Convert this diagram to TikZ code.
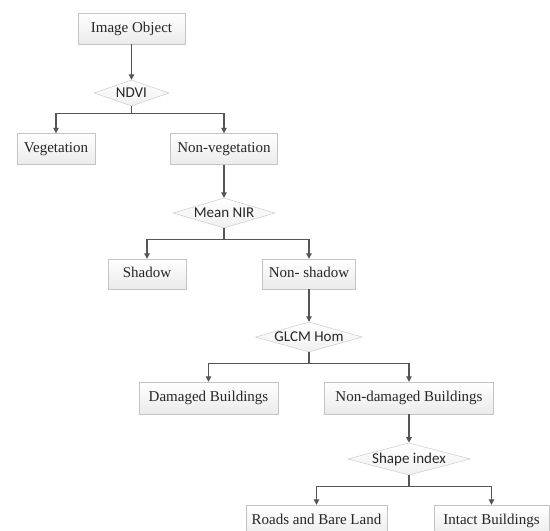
\documentclass[tikz,border=0pt]{standalone}
\usepackage{fontspec}
\setmainfont{Liberation Serif}
\newfontfamily\diafont{Carlito}
\usetikzlibrary{shapes.geometric,arrows.meta}
\definecolor{lineclr}{HTML}{555555}
\definecolor{boxborder}{HTML}{C4C4C4}
\tikzset{
  box/.style={rectangle, draw=boxborder, top color=white, bottom color=black!8,
    minimum height=31pt, inner sep=0pt, text height=10.5pt, text depth=3.5pt,
    font=\fontsize{15}{15}\selectfont, text=black!85},
  dia/.style={diamond, draw=boxborder, top color=white, bottom color=black!6,
    inner sep=0pt, minimum height=30pt, font=\diafont\fontsize{15}{15}\selectfont, text=black!85},
  arr/.style={draw=lineclr, line width=1.1pt, -{Triangle[width=5.5pt,length=5.5pt]}},
  ln/.style={draw=lineclr, line width=1.1pt}
}
\begin{document}
\begin{tikzpicture}[x=1pt,y=-1pt]
\useasboundingbox (0,0) rectangle (550,531);
\clip (0,0) rectangle (550,531);
\fill[white] (0,0) rectangle (550,531);
\node[box, minimum width=107pt] (img) at (131.5,28.5) {Image Object};
\node[dia, minimum width=75pt, minimum height=26pt, aspect=2.9] (ndvi) at (131.5,93) {NDVI};
\node[box, minimum width=78pt] (veg) at (56,149) {Vegetation};
\node[box, minimum width=107pt] (nonveg) at (224,149) {Non-vegetation};
\node[dia, minimum width=102pt, aspect=3.4] (nir) at (224,213) {Mean NIR};
\node[box, minimum width=78pt, minimum height=30pt] (shadow) at (147,274) {Shadow};
\node[box, minimum width=93pt, minimum height=30pt] (nonshadow) at (309,274) {Non- shadow};
\node[dia, minimum width=107pt, aspect=3.5] (glcm) at (309,337) {GLCM Hom};
\node[box, minimum width=139pt, minimum height=32pt] (dam) at (208.5,398) {Damaged Buildings};
\node[box, minimum width=169pt, minimum height=32pt] (nondam) at (409,398) {Non-damaged Buildings};
\node[dia, minimum width=115pt, aspect=3.8] (shape) at (409,459) {Shape index};
\node[box, minimum width=141pt, minimum height=32pt] (roads) at (316.5,521) {Roads and Bare Land};
\node[box, minimum width=115pt, minimum height=32pt] (intact) at (491.5,521) {Intact Buildings};

\draw[arr] (img.south) -- (ndvi.north);
\draw[arr] (ndvi.south) -- ++(0,7) -| (veg.north);
\draw[arr] (ndvi.south) -- ++(0,7) -| (nonveg.north);
\draw[arr] (nonveg.south) -- (nir.north);
\draw[arr] (nir.south) -- ++(0,11) -| (shadow.north);
\draw[arr] (nir.south) -- ++(0,11) -| (nonshadow.north);
\draw[arr] (nonshadow.south) -- (glcm.north);
\draw[arr] (glcm.south) -- ++(0,11) -| (dam.north);
\draw[arr] (glcm.south) -- ++(0,11) -| (nondam.north);
\draw[arr] (nondam.south) -- (shape.north);
\draw[arr] (shape.south) -- ++(0,11) -| (roads.north);
\draw[arr] (shape.south) -- ++(0,11) -| (intact.north);
\end{tikzpicture}
\end{document}
